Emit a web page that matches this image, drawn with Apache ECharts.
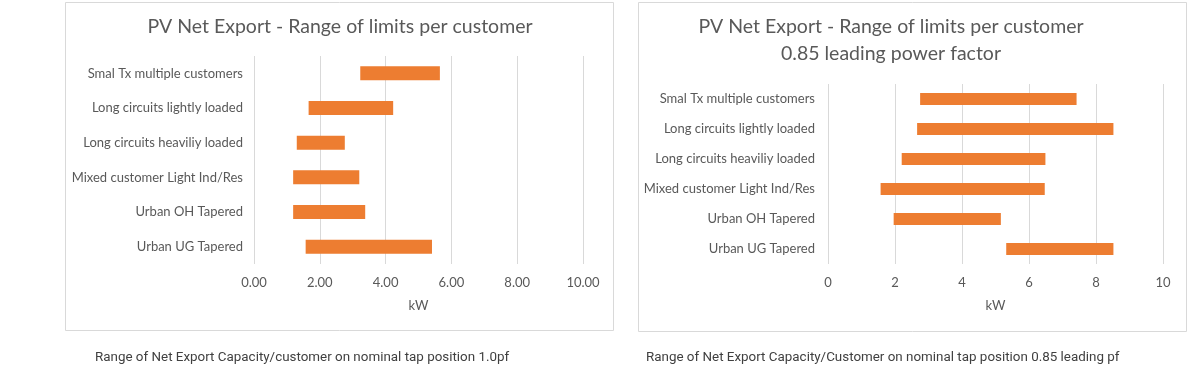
<!DOCTYPE html>
<html>
<head>
<meta charset="utf-8">
<script src="https://cdn.jsdelivr.net/npm/echarts@6/dist/echarts.min.js"></script>
<style>
html,body{margin:0;padding:0;background:#fff;}
#c{width:1200px;height:373px;}
</style>
</head>
<body>
<div id="c"></div>
<script>
var categories = ["Smal Tx multiple customers", "Long circuits lightly loaded", "Long circuits heaviliy loaded", "Mixed customer Light Ind/Res", "Urban OH Tapered", "Urban UG Tapered"];
var leftStart = [3.23, 1.66, 1.30, 1.19, 1.19, 1.57];
var leftEnd   = [5.65, 4.23, 2.76, 3.20, 3.38, 5.41];
var rightStart = [2.75, 2.66, 2.20, 1.57, 1.96, 5.32];
var rightEnd   = [7.42, 8.52, 6.49, 6.47, 5.16, 8.52];
var leftTicks = [0, 2, 4, 6, 8, 10];
var rightTicks = [0, 2, 4, 6, 8, 10];
var leftTitle = "PV Net Export - Range of limits per customer";
var rightTitle = "PV Net Export - Range of limits per customer\n0.85 leading power factor";
var leftCaption = "Range of Net Export Capacity/customer on nominal tap position 1.0pf";
var rightCaption = "Range of Net Export Capacity/Customer on nominal tap position 0.85 leading pf";
var axisName = "kW";

function diff(a, b) { return b.map(function (v, i) { return +(v - a[i]).toFixed(2); }); }

var FONT = "Lato, 'Open Sans', sans-serif";
var TXT = "#595959";
var BAR = "#ED7D31";

function xAxisDef(gi, ticks, fmt, nameGap) {
  return {
    gridIndex: gi, type: 'value', min: ticks[0], max: ticks[ticks.length - 1], interval: 2,
    axisLine: {show: false}, axisTick: {show: false},
    splitLine: {show: true, lineStyle: {color: '#d9d9d9', width: 1}},
    axisLabel: {color: TXT, fontFamily: FONT, fontSize: 13, margin: 12, formatter: fmt},
    name: axisName, nameLocation: 'middle', nameGap: nameGap,
    nameTextStyle: {color: TXT, fontFamily: FONT, fontSize: 13}
  };
}
function yAxisDef(gi, margin) {
  return {
    gridIndex: gi, type: 'category', data: categories, inverse: true,
    axisLine: {show: false}, axisTick: {show: false}, splitLine: {show: false},
    axisLabel: {color: TXT, fontFamily: FONT, fontSize: 13, margin: margin}
  };
}

var chart = echarts.init(document.getElementById('c'), null, {renderer: 'canvas'});
chart.setOption({
  animation: false,
  backgroundColor: '#fff',
  title: [
    {text: leftTitle, left: 335, top: 12, textAlign: 'center',
     textStyle: {color: TXT, fontFamily: FONT, fontSize: 19.5, fontWeight: 'normal'}},
    {text: rightTitle, left: 886, top: 8, textAlign: 'center',
     textStyle: {color: TXT, fontFamily: FONT, fontSize: 19.5, fontWeight: 'normal', lineHeight: 27}},
    {text: leftCaption, left: 90, top: 346,
     textStyle: {color: '#404040', fontFamily: "Roboto, sans-serif", fontSize: 13.4, fontWeight: 'normal'}},
    {text: rightCaption, left: 641, top: 346,
     textStyle: {color: '#404040', fontFamily: "Roboto, sans-serif", fontSize: 13.4, fontWeight: 'normal'}}
  ],
  graphic: [
    {type: 'rect', shape: {x: 65.5, y: 2.5, width: 548, height: 328}, style: {fill: 'none', stroke: '#d9d9d9', lineWidth: 1}, silent: true},
    {type: 'rect', shape: {x: 638.5, y: 2.5, width: 548, height: 329}, style: {fill: 'none', stroke: '#d9d9d9', lineWidth: 1}, silent: true}
  ],
  grid: [
    {left: 254, width: 329, top: 56, height: 208},
    {left: 828, width: 335, top: 84, height: 180}
  ],
  xAxis: [
    xAxisDef(0, leftTicks, function (v) { return v.toFixed(2); }, 35),
    xAxisDef(1, rightTicks, function (v) { return String(v); }, 35)
  ],
  yAxis: [yAxisDef(0, 11), yAxisDef(1, 13)],
  series: [
    {type: 'bar', xAxisIndex: 0, yAxisIndex: 0, stack: 'l', data: leftStart, itemStyle: {color: 'transparent'}, barWidth: 14, silent: true},
    {type: 'bar', xAxisIndex: 0, yAxisIndex: 0, stack: 'l', data: diff(leftStart, leftEnd), itemStyle: {color: BAR}, barWidth: 14},
    {type: 'bar', xAxisIndex: 1, yAxisIndex: 1, stack: 'r', data: rightStart, itemStyle: {color: 'transparent'}, barWidth: 12, silent: true},
    {type: 'bar', xAxisIndex: 1, yAxisIndex: 1, stack: 'r', data: diff(rightStart, rightEnd), itemStyle: {color: BAR}, barWidth: 12}
  ]
});
</script>
</body>
</html>
